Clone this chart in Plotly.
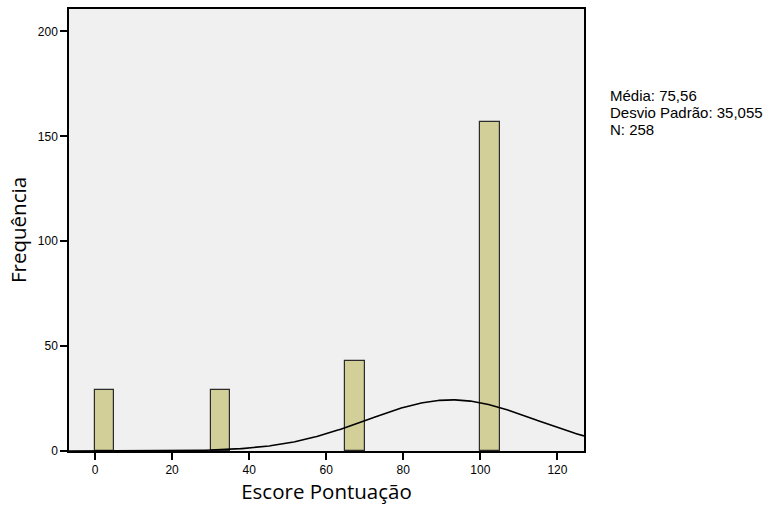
import numpy as np
import plotly.graph_objects as go

# Histogram bins (width 5) that contain observations, and their counts
bin_start = [0, 30, 65, 100]
bin_width = 5
counts = [29, 29, 43, 157]

# Summary statistics shown beside the chart
mean_txt = "75,56"
sd_txt = "35,055"
n_total = 258

# Fitted normal curve as drawn over the histogram (centre, spread, peak height)
curve_mean = 92.5
curve_sd = 22.0
curve_peak = 24.4

x_ticks = [0, 20, 40, 60, 80, 100, 120]
y_ticks = [0, 50, 100, 150, 200]

x_range = [-6.75, 126.9]
y_range = [0, 210.7]

centers = [b + bin_width / 2 for b in bin_start]

xs = np.linspace(x_range[0], x_range[1], 400)
ys = curve_peak * np.exp(-0.5 * ((xs - curve_mean) / curve_sd) ** 2)

fig = go.Figure()
fig.add_trace(go.Bar(
    x=centers, y=counts, width=bin_width,
    marker=dict(color="#D3CF99", line=dict(color="#2b2b2b", width=1.2)),
    hoverinfo="skip",
))
fig.add_trace(go.Scatter(
    x=xs, y=ys, mode="lines",
    line=dict(color="black", width=1.6),
    hoverinfo="skip",
))

axis_common = dict(
    showline=True, linecolor="black", linewidth=1.5, mirror=True,
    ticks="outside", ticklen=7, tickcolor="black", tickwidth=1.5,
    showgrid=False, zeroline=False,
    tickfont=dict(family="Liberation Sans, Arial", size=12, color="black"),
)

fig.update_xaxes(range=x_range, tickvals=x_ticks, **axis_common,
                 title=dict(text="Escore Pontuação", standoff=6,
                            font=dict(family="Open Sans", size=20.5, color="black")))
fig.update_yaxes(range=y_range, tickvals=y_ticks, **axis_common,
                 title=dict(text="Frequência", standoff=6,
                            font=dict(family="Open Sans", size=20.5, color="black")))

# Statistics block to the right of the plot, one line per annotation
stat_lines = [f"Média: {mean_txt}", f"Desvio Padrão: {sd_txt}", f"N: {n_total}"]
stat_y = [0.804, 0.766, 0.7275]
for line, yy in zip(stat_lines, stat_y):
    fig.add_annotation(
        xref="paper", yref="paper", x=1.046, y=yy, xanchor="left", yanchor="middle",
        align="left", showarrow=False, text=line,
        font=dict(family="Liberation Sans, Arial", size=15, color="black"),
    )

fig.update_layout(
    width=774, height=507,
    margin=dict(l=69, r=190, t=7, b=56),
    paper_bgcolor="white", plot_bgcolor="#F0F0F0",
    showlegend=False, bargap=0,
)

fig.write_html("out.html")
